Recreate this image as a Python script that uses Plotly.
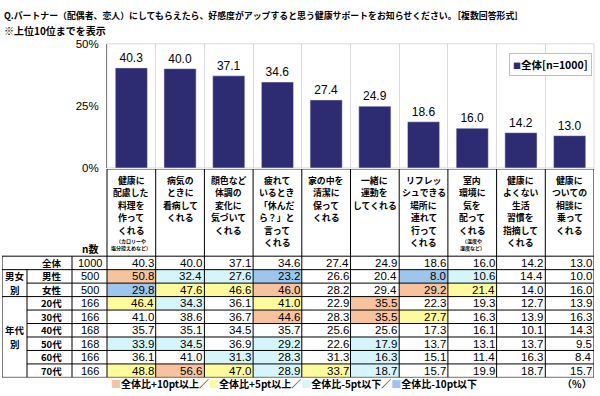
import plotly.graph_objects as go

# ---------------- data ----------------
categories = [
    "健康に配慮した料理を作ってくれる",
    "病気のときに看病してくれる",
    "顔色など体調の変化に気づいてくれる",
    "疲れているとき「休んだら？」と言ってくれる",
    "家の中を清潔に保ってくれる",
    "一緒に運動をしてくれる",
    "リフレッシュできる場所に連れて行ってくれる",
    "室内環境に気を配ってくれる",
    "健康によくない生活習慣を指摘してくれる",
    "健康についての相談に乗ってくれる",
]
header_labels = [
    "健康に<br>配慮した<br>料理を<br>作って<br>くれる",
    "病気の<br>ときに<br>看病して<br>くれる",
    "顔色など<br>体調の<br>変化に<br>気づいて<br>くれる",
    "疲れて<br>いるとき<br>「休んだ<br>ら？」と<br>言って<br>くれる",
    "家の中を<br>清潔に<br>保って<br>くれる",
    "一緒に<br>運動を<br>してくれる",
    "リフレッ<br>シュできる<br>場所に<br>連れて<br>行って<br>くれる",
    "室内<br>環境に<br>気を<br>配って<br>くれる",
    "健康に<br>よくない<br>生活<br>習慣を<br>指摘して<br>くれる",
    "健康に<br>ついての<br>相談に<br>乗って<br>くれる",
]
header_notes = ["（カロリーや<br>塩分控えめなど）", "", "", "", "", "", "", "（温度や<br>湿度など）", "", ""]

total = [40.3, 40.0, 37.1, 34.6, 27.4, 24.9, 18.6, 16.0, 14.2, 13.0]
male = [50.8, 32.4, 27.6, 23.2, 26.6, 20.4, 8.0, 10.6, 14.4, 10.0]
female = [29.8, 47.6, 46.6, 46.0, 28.2, 29.4, 29.2, 21.4, 14.0, 16.0]
age20 = [46.4, 34.3, 36.1, 41.0, 22.9, 35.5, 22.3, 19.3, 12.7, 13.9]
age30 = [41.0, 38.6, 36.7, 44.6, 28.3, 35.5, 27.7, 16.3, 13.9, 16.3]
age40 = [35.7, 35.1, 34.5, 35.7, 25.6, 25.6, 17.3, 16.1, 10.1, 14.3]
age50 = [33.9, 34.5, 36.9, 29.2, 22.6, 17.9, 13.7, 13.1, 13.7, 9.5]
age60 = [36.1, 41.0, 31.3, 28.3, 31.3, 16.3, 15.1, 11.4, 16.3, 8.4]
age70 = [48.8, 56.6, 47.0, 28.9, 33.7, 18.7, 15.7, 19.9, 18.7, 15.7]

row_labels = ["全体", "男性", "女性", "20代", "30代", "40代", "50代", "60代", "70代"]
n_values = [1000, 500, 500, 166, 166, 168, 168, 166, 166]
# group label parts and the row each part sits on
group_parts = ["男女", "別", "年代", "別"]
group_part_rows = [1, 2, 5, 6]

y_ticks = [0, 25, 50]
y_ticktext = ["0%", "25%", "50%"]

legend_labels = ["全体比+10pt以上／", "全体比+5pt以上／", "全体比-5pt以下／", "全体比-10pt以下"]

# ---------------- styles ----------------
W, H = 600, 396
BAR_COLOR = "#2D2C72"
C_PLUS10 = "#F7C39E"
C_PLUS5 = "#FFFA9C"
C_MINUS5 = "#D6F5FA"
C_MINUS10 = "#9CC6EE"
legend_colors = [C_PLUS10, C_PLUS5, C_MINUS5, C_MINUS10]
FJ = "Noto Sans CJK JP"
FN = "Liberation Sans, Arial, sans-serif"

table_rows = [total, male, female, age20, age30, age40, age50, age60, age70]


def cell_color(v, base):
    d = round(v - base, 1)
    if d >= 10:
        return C_PLUS10
    if d >= 5:
        return C_PLUS5
    if d <= -10:
        return C_MINUS10
    if d <= -5:
        return C_MINUS5
    return None


# pixel layout
PX_LEFT, PX_GRP, PX_LBL, PX_DATA, PX_RIGHT = 2, 27, 72, 107, 594
PY_PLOT_TOP, PY_PLOT_BOT = 39, 167
PY_HEAD_TOP, PY_BODY_TOP, PY_BODY_BOT = 168, 258, 383
HEAD_LINE0, HEAD_STEP = 179.5, 12.9
NOTE_LINE0, NOTE_STEP = 242.3, 7.3
ncol = len(categories)
unit = (PX_RIGHT - PX_DATA) / ncol


def ux(px):
    return -0.5 + (px - PX_DATA) / unit


nrow = len(row_labels)
row_h = (PY_BODY_BOT - PY_BODY_TOP) / nrow
HEAD = (PY_BODY_TOP - PY_HEAD_TOP) / row_h


def uy(py):
    return -HEAD + (py - PY_HEAD_TOP) / row_h


fig = go.Figure()

fig.add_trace(go.Bar(
    x=categories, y=total, marker_color=BAR_COLOR, width=0.66,
    text=[f"{v:.1f}" for v in total], textposition="outside",
    textfont=dict(family=FN, size=12, color="#000"), cliponaxis=False,
    showlegend=False, hoverinfo="skip",
))

shapes = []
annotations = []

# plot frame
shapes.append(dict(type="rect", xref="x domain", yref="y domain", x0=0, x1=1, y0=0, y1=1,
                   line=dict(color="#D9D9D9", width=1), layer="below"))

# cell fills
for i, row in enumerate(table_rows):
    for j, v in enumerate(row):
        c = cell_color(v, total[j]) if i > 0 else None
        if c:
            shapes.append(dict(type="rect", xref="x2", yref="y2", x0=j - 0.5, x1=j + 0.5,
                               y0=i, y1=i + 1, fillcolor=c, line=dict(width=0), layer="below"))

LINE = dict(color="#000", width=1)
xl, xg, xn, xd, xr = ux(PX_LEFT), ux(PX_GRP), ux(PX_LBL), ux(PX_DATA), ux(PX_RIGHT)

# header top
shapes.append(dict(type="line", xref="x2", yref="y2", x0=xd, x1=xr, y0=-HEAD, y1=-HEAD, line=LINE))
# data column verticals
for k in range(ncol + 1):
    shapes.append(dict(type="line", xref="x2", yref="y2", x0=xd + k, x1=xd + k, y0=-HEAD, y1=nrow, line=LINE))
# left verticals
shapes.append(dict(type="line", xref="x2", yref="y2", x0=xl, x1=xl, y0=0, y1=nrow, line=LINE))
shapes.append(dict(type="line", xref="x2", yref="y2", x0=xn, x1=xn, y0=0, y1=nrow, line=LINE))
shapes.append(dict(type="line", xref="x2", yref="y2", x0=xg, x1=xg, y0=1, y1=nrow, line=LINE))
# horizontals
full_rows = {0, 1, 3, nrow}
for r in range(nrow + 1):
    x0 = xl if r in full_rows else xg
    shapes.append(dict(type="line", xref="x2", yref="y2", x0=x0, x1=xr, y0=r, y1=r, line=LINE))

# header labels, one annotation per line
for j, lab in enumerate(header_labels):
    for k, line in enumerate(lab.split("<br>")):
        annotations.append(dict(xref="x2", yref="y2", x=j, y=uy(HEAD_LINE0 + k * HEAD_STEP),
                                xanchor="center", yanchor="middle", text=line, showarrow=False,
                                borderpad=0, font=dict(family=FJ, size=8.9, color="#000", weight="bold")))
    if header_notes[j]:
        for k, line in enumerate(header_notes[j].split("<br>")):
            annotations.append(dict(xref="x2", yref="y2", x=j, y=uy(NOTE_LINE0 + k * NOTE_STEP),
                                    xanchor="center", yanchor="middle", text=line, showarrow=False,
                                    borderpad=0, font=dict(family=FJ, size=5.0, color="#000", weight="bold")))
annotations.append(dict(xref="x2", yref="y2", x=(xn + xd) / 2, y=0, yanchor="bottom", yshift=-1,
                        text="n数", showarrow=False, borderpad=0,
                        font=dict(family=FJ, size=10, color="#000", weight="bold")))

# body text
for i, row in enumerate(table_rows):
    annotations.append(dict(xref="x2", yref="y2", x=(xg + xn) / 2 + 0.05, y=i + 0.5, text=row_labels[i],
                            showarrow=False, borderpad=0,
                            font=dict(family=FJ, size=9.5, color="#000", weight="bold")))
    annotations.append(dict(xref="x2", yref="y2", x=(xn + xd) / 2, y=i + 0.5, text=str(n_values[i]),
                            showarrow=False, borderpad=0, font=dict(family=FN, size=11, color="#000")))
    for j, v in enumerate(row):
        annotations.append(dict(xref="x2", yref="y2", x=j + 0.5, y=i + 0.5, xanchor="right", xshift=-1,
                                text=f"{v:.1f}", showarrow=False, borderpad=0,
                                font=dict(family=FN, size=11.5, color="#000")))
for g, r in zip(group_parts, group_part_rows):
    annotations.append(dict(xref="x2", yref="y2", x=(xl + xg) / 2, y=r + 0.5, text=g,
                            showarrow=False, borderpad=0,
                            font=dict(family=FJ, size=9.5, color="#000", weight="bold")))

# titles
annotations.append(dict(xref="paper", yref="paper", x=0.003, y=1 - 1 / H, xanchor="left", yanchor="top",
                        text="Q.パートナー（配偶者、恋人）にしてもらえたら、好感度がアップすると思う健康サポートをお知らせください。［複数回答形式］",
                        showarrow=False, font=dict(family=FJ, size=8.9, color="#000", weight="bold")))
annotations.append(dict(xref="paper", yref="paper", x=0.003, y=1 - 15 / H, xanchor="left", yanchor="top",
                        text="※上位10位までを表示", showarrow=False,
                        font=dict(family=FJ, size=10, color="#000", weight="bold")))

# series legend box
annotations.append(dict(xref="paper", yref="paper", x=592 / W, y=1 - 48 / H, xanchor="right", yanchor="top",
                        text=f"<span style='font-size:8px;color:{BAR_COLOR}'>■</span>全体[n=1000]",
                        showarrow=False, bgcolor="#fff", bordercolor="#BFBFBF", borderwidth=1, borderpad=3,
                        font=dict(family=FJ, size=10.5, color="#000", weight="bold")))

# color legend
leg_text = "".join(f"<span style='color:{c}'>■</span>{t}" for c, t in zip(legend_colors, legend_labels))
annotations.append(dict(xref="paper", yref="paper", x=110 / W, y=1 - 389 / H, xanchor="left", yanchor="middle",
                        text=leg_text, showarrow=False, borderpad=0,
                        font=dict(family=FJ, size=10, color="#000", weight="bold")))
annotations.append(dict(xref="paper", yref="paper", x=593 / W, y=1 - 389 / H, xanchor="right", yanchor="middle",
                        text="（%）", showarrow=False, borderpad=0,
                        font=dict(family=FJ, size=10, color="#000", weight="bold")))

fig.update_layout(
    width=W, height=H, margin=dict(l=0, r=0, t=0, b=0),
    paper_bgcolor="#fff", plot_bgcolor="#fff",
    xaxis=dict(domain=[PX_DATA / W, PX_RIGHT / W], type="category", range=[-0.5, ncol - 0.5],
               tickson="boundaries", showgrid=True, gridcolor="#D9D9D9", gridwidth=1,
               showticklabels=False, ticks="", showline=False, zeroline=False, fixedrange=True),
    yaxis=dict(domain=[1 - PY_PLOT_BOT / H, 1 - PY_PLOT_TOP / H], range=[0, 50],
               tickvals=y_ticks, ticktext=y_ticktext, showgrid=False, zeroline=False,
               showline=True, linecolor="#808080", linewidth=1, ticks="", ticklabelstandoff=5,
               tickfont=dict(family=FN, size=11.5, color="#000")),
    xaxis2=dict(domain=[PX_LEFT / W, PX_RIGHT / W], range=[xl, xr], visible=False, anchor="y2"),
    yaxis2=dict(domain=[1 - PY_BODY_BOT / H, 1 - PY_HEAD_TOP / H], range=[nrow, -HEAD],
                visible=False, anchor="x2"),
    shapes=shapes, annotations=annotations,
    bargap=0.34,
)

fig.write_html("out.html", config={"displayModeBar": False},
               post_script="document.body.style.margin='0';document.body.style.padding='0';")
